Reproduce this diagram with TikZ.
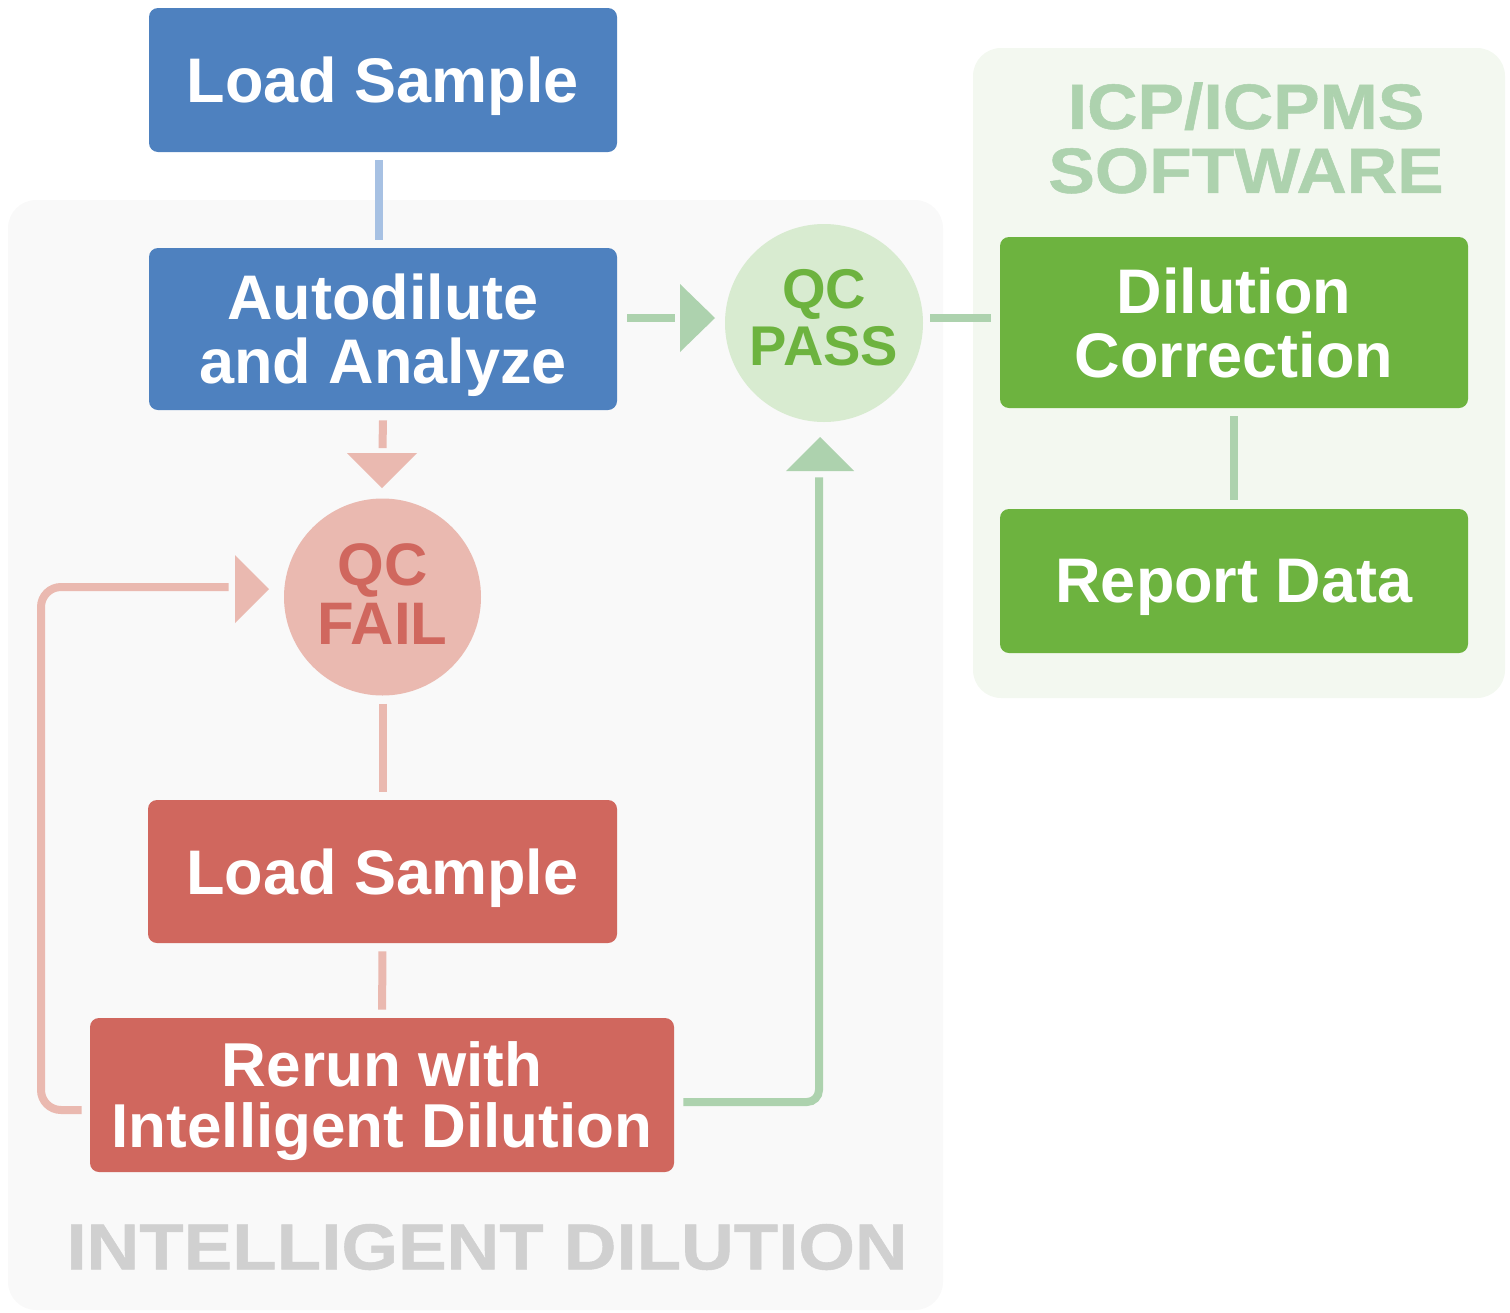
\documentclass[tikz,border=0pt]{standalone}
\usepackage{fontspec}
\setmainfont{Liberation Sans}
\newfontfamily\widefont{Liberation Sans}[FakeStretch=1.09,FakeBold=0.8]
\newfontfamily\widerfont{Liberation Sans}[FakeStretch=1.12,FakeBold=0.8]
\usetikzlibrary{calc}
\definecolor{bluebox}{HTML}{4E81BF}
\definecolor{blueline}{HTML}{A7C1E3}
\definecolor{redbox}{HTML}{D0675E}
\definecolor{redlight}{HTML}{EAB9B0}
\definecolor{greenbox}{HTML}{6DB33F}
\definecolor{greenlight}{HTML}{ADD2AE}
\definecolor{passfill}{HTML}{D8EBD0}
\definecolor{panelgrey}{HTML}{F9F9F9}
\definecolor{panelgreen}{HTML}{F3F8F0}
\definecolor{greytext}{HTML}{D0D0D0}
\begin{document}
\begin{tikzpicture}[x=0.5pt,y=-0.5pt,
  boxnode/.style={rectangle, rounded corners=4.5pt, inner sep=0pt, text=white, align=center,
    text depth=0pt, font=\fontsize{31.5}{32}\selectfont\bfseries},
  bluenode/.style={boxnode, fill=bluebox},
  rednode/.style={boxnode, fill=redbox},
  greennode/.style={boxnode, fill=greenbox},
  bline/.style={draw=blueline, line width=4pt},
  rline/.style={draw=redlight, line width=4pt},
  gline/.style={draw=greenlight, line width=4pt},
  rtri/.style={fill=redlight},
  gtri/.style={fill=greenlight}]
\useasboundingbox (0,0) rectangle (1510,1312);
% panels
\fill[panelgrey, rounded corners=14pt] (8,200) rectangle (943,1310);
\fill[panelgreen, rounded corners=14pt] (973,48) rectangle (1505,698);
\node[text=greytext, font=\widerfont\fontsize{32.5}{33}\selectfont\bfseries] (idtitle) at (487,1247) {INTELLIGENT DILUTION};
\node[text=greenlight, align=center, font=\widefont\fontsize{32}{32}\selectfont\bfseries] (icptitle) at (1246,138) {ICP/ICPMS\\SOFTWARE};
% nodes
\node[bluenode, minimum width=234pt, minimum height=72pt] (ls1) at (383,80) {Load Sample};
\node[bluenode, minimum width=234pt, minimum height=81pt] (auto) at (383,329) {Autodilute\\and Analyze};
\node[circle, fill=passfill, minimum size=99pt, inner sep=0pt, text=greenbox, align=center,
  text depth=6pt, font=\fontsize{28}{28.5}\selectfont\bfseries] (pass) at (824,323) {QC\\PASS};
\node[circle, fill=redlight, minimum size=98.5pt, inner sep=0pt, text=redbox, align=center,
  text depth=2.5pt, font=\fontsize{30}{29.5}\selectfont\bfseries] (fail) at (382.5,597) {QC\\FAIL};
\node[rednode, minimum width=234.5pt, minimum height=71.5pt] (ls2) at (382.5,871.5) {Load Sample};
\node[rednode, minimum width=292pt, minimum height=77pt, font=\fontsize{31}{30.5}\selectfont\bfseries] (rerun) at (382,1095) {Rerun with\\Intelligent Dilution};
\node[greennode, minimum width=234pt, minimum height=85.5pt] (dil) at (1234,322.5) {Dilution\\Correction};
\node[greennode, minimum width=234pt, minimum height=72pt] (rep) at (1234,581) {Report Data};
% connectors
\draw[bline] ([xshift=-2pt,yshift=-4pt]ls1.south) -- ([xshift=-2pt,yshift=4pt]auto.north);
\draw[gline] ([xshift=5pt,yshift=5.5pt]auto.east) -- ([xshift=-25pt,yshift=2.5pt]pass.west);
\fill[gtri] (680,284) -- (715,318) -- (680,352) -- cycle;
\draw[rline] ([yshift=-5pt]auto.south) -- ([yshift=25pt]fail.north);
\fill[rtri] (347,453) -- (417,453) -- (382,488) -- cycle;
\draw[rline, shorten <=4pt, shorten >=4pt] (fail) -- (ls2);
\draw[rline, shorten <=4pt, shorten >=4pt] (ls2) -- (rerun);
\draw[rline, rounded corners=10pt] ([xshift=-4pt,yshift=-7.5pt]rerun.west) -- (41,1110) -- (41,587) -- ([xshift=-27.5pt,yshift=5pt]fail.west);
\fill[rtri] (235,555) -- (269,589) -- (235,623) -- cycle;
\draw[gline, rounded corners=6pt] ([xshift=4.5pt,yshift=-3.5pt]rerun.east) -- (819,1102) -- ([xshift=-2.5pt,yshift=-27.5pt]pass.south);
\fill[gtri] (786,471) -- (854,471) -- (820,437) -- cycle;
\draw[gline] ([xshift=3.5pt,yshift=2.5pt]pass.east) -- ([xshift=-4.5pt,yshift=2.25pt]dil.west);
\draw[gline, shorten <=4pt, shorten >=4.5pt] (dil) -- (rep);
\end{tikzpicture}
\end{document}
